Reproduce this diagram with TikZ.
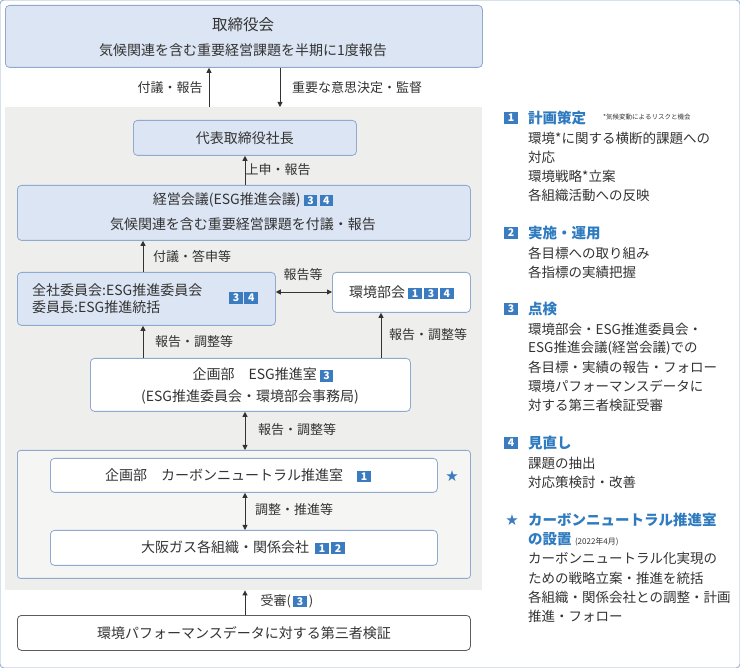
\documentclass[tikz,border=0pt]{standalone}
\usepackage{fontspec}
\setmainfont{Noto Sans CJK JP}
\newfontfamily\dejavu{DejaVu Sans}
\usetikzlibrary{arrows.meta}
\definecolor{lb}{HTML}{DCE5F3}
\definecolor{bd}{HTML}{8FA9CF}
\definecolor{gp}{HTML}{EEEEEC}
\definecolor{badge}{HTML}{3B7CC0}
\definecolor{tt}{HTML}{333333}
\definecolor{ttl}{HTML}{2F7BBF}
\newcommand\bdg[1]{{\setlength\fboxsep{1.8pt}\colorbox{badge}{\makebox[10pt]{\color{white}\bfseries\fontsize{10.5}{10.5}\selectfont #1}}}}
\tikzset{
 box/.style={draw=bd,line width=0.8pt,rounded corners=4pt,inner sep=0},
 blue/.style={box,fill=lb},
 white/.style={box,fill=white},
 arr/.style={-{Triangle[length=5pt,width=5pt]},line width=0.8pt,draw=tt},
 darr/.style={{Triangle[length=5pt,width=5pt]}-{Triangle[length=5pt,width=5pt]},line width=0.8pt,draw=tt},
 lab/.style={text=tt,font=\fontsize{13}{15}\selectfont,inner sep=1pt},
 txt/.style={text=tt,font=\fontsize{14}{17}\selectfont,inner sep=0},
 rt/.style={text=tt,font=\fontsize{13.5}{15}\selectfont,anchor=west,inner sep=0},
 rh/.style={text=ttl,font=\fontsize{14.5}{16}\selectfont\bfseries,anchor=west,inner sep=0},
}
\begin{document}
\begin{tikzpicture}[x=1pt,y=-1pt]
\useasboundingbox (0,0) rectangle (740,668);
\fill[white] (0,0) rectangle (740,668);
% top
\node[blue,minimum width=477pt,minimum height=62pt,anchor=north west] (board) at (5,5) {};
\node[txt,font=\fontsize{15.5}{17}\selectfont] (b1) at (243,25) {取締役会};
\node[txt] (b2) at (243,50) {気候関連を含む重要経営課題を半期に1度報告};
% grey panel
\node[fill=gp,minimum width=477pt,minimum height=483pt,anchor=north west,inner sep=0] (panel) at (5,107) {};
\draw[arr] (panel.north -| 209,0) -- (board.south -| 209,0);
\draw[arr] (board.south -| 280,0) -- (panel.north -| 280,0);
\node[lab] at (170,88) {付議・報告};
\node[lab] at (357,88) {重要な意思決定・監督};
% ceo
\node[blue,minimum width=223pt,minimum height=35pt,anchor=north west,txt] (ceo) at (133,120) {};
\node[txt] at (ceo) {代表取締役社長};
\node[blue,minimum width=453pt,minimum height=55pt,anchor=north west] (keiei) at (17,185) {};
\node[txt] at (243,200) {経営会議(ESG推進会議)\ \bdg{3}\,\bdg{4}};
\node[txt] at (243,224) {気候関連を含む重要経営課題を付議・報告};
\draw[arr] (keiei.north -| 245,0) -- (ceo.south -| 245,0);
\node[lab] at (278,170) {上申・報告};
% zensha
\node[blue,minimum width=258pt,minimum height=53pt,anchor=north west] (zensha) at (17,272) {};
\node[txt,anchor=west,align=left] at (32,299) {全社委員会:ESG推進委員会\\委員長:ESG推進統括};
\node[anchor=west,inner sep=0] at (229,298) {\bdg{3}\,\bdg{4}};
\draw[arr] (zensha.north -| 143,0) -- (keiei.south -| 143,0);
\node[lab] at (192,257) {付議・答申等};
% kankyo
\node[white,minimum width=138pt,minimum height=40pt,anchor=north west] (kankyo) at (332,272) {};
\node[txt] at (kankyo) {環境部会\ \bdg{1}\,\bdg{3}\,\bdg{4}};
\draw[darr] (zensha.east |- 0,292) -- (kankyo.west |- 0,292);
\node[lab] at (303,275) {報告等};
% kikaku
\node[white,minimum width=320pt,minimum height=53pt,anchor=north west] (kikaku) at (90,358) {};
\node[txt] at (263,375) {企画部\quad ESG推進室\ \bdg{3}};
\node[txt] at (250,397) {(ESG推進委員会・環境部会事務局)};
\draw[arr] (kikaku.north -| 143,0) -- (zensha.south -| 143,0);
\node[lab] at (194,342) {報告・調整等};
\draw[arr] (kikaku.north -| 381,0) -- (kankyo.south -| 381,0);
\node[lab] at (428,335) {報告・調整等};
% inner panel
\node[draw=bd,line width=0.8pt,rounded corners=3pt,fill=gp!60!white,minimum width=453pt,minimum height=128pt,anchor=north west,inner sep=0] (inner) at (17,450) {};
\draw[darr] (kikaku.south -| 245,0) -- (inner.north -| 245,0);
\node[lab] at (297,430) {報告・調整等};
\node[white,minimum width=387pt,minimum height=34pt,anchor=north west] (carbon) at (50,458) {};
\node[txt] at (238,475) {企画部\quad カーボンニュートラル推進室\quad\bdg{1}};
\node[text=badge,font=\dejavu\fontsize{15}{15}\selectfont,inner sep=0] (star) at (452,476) {★};
\node[white,minimum width=387pt,minimum height=35pt,anchor=north west] (osaka) at (50,530) {};
\node[txt] at (243,547) {大阪ガス各組織・関係会社\ \ \bdg{1}\,\bdg{2}};
\draw[darr] (carbon.south -| 245,0) -- (osaka.north -| 245,0);
\node[lab] at (294,510) {調整・推進等};
% bottom
\node[box,draw=tt!80,fill=white,minimum width=453pt,minimum height=35pt,anchor=north west] (third) at (17,615) {};
\node[txt] at (third) {環境パフォーマンスデータに対する第三者検証};
\draw[arr] (third.north -| 245,0) -- (panel.south -| 245,0);
\node[lab] at (287,601) {受審(\,\bdg{3}\,)};
% right legend
\node[anchor=west,inner sep=0] (r1) at (504,118) {\bdg{1}};
\node[rh] at (528,118) {計画策定};
\node[text=tt,font=\fontsize{6.5}{7}\selectfont,anchor=west,inner sep=0] at (603,117) {*気候変動によるリスクと機会};
\node[rt] at (528,138) {環境*に関する横断的課題への};
\node[rt] at (528,157) {対応};
\node[rt] at (528,176) {環境戦略*立案};
\node[rt] at (528,195) {各組織活動への反映};
\node[anchor=west,inner sep=0] (r2) at (504,233) {\bdg{2}};
\node[rh] at (528,233) {実施・運用};
\node[rt] at (528,253) {各目標への取り組み};
\node[rt] at (528,272) {各指標の実績把握};
\node[anchor=west,inner sep=0] (r3) at (504,309) {\bdg{3}};
\node[rh] at (528,309) {点検};
\node[rt] at (528,329) {環境部会・ESG推進委員会・};
\node[rt] at (528,348) {ESG推進会議(経営会議)での};
\node[rt] at (528,367) {各目標・実績の報告・フォロー};
\node[rt] at (528,386) {環境パフォーマンスデータに};
\node[rt] at (528,405) {対する第三者検証受審};
\node[anchor=west,inner sep=0] (r4) at (504,443) {\bdg{4}};
\node[rh] at (528,443) {見直し};
\node[rt] at (528,463) {課題の抽出};
\node[rt] at (528,482) {対応策検討・改善};
\node[text=badge,font=\dejavu\fontsize{15}{15}\selectfont,inner sep=0] (r5) at (512,520) {★};
\node[rh] at (528,520) {カーボンニュートラル推進室};
\node[rh] at (528,539) {の設置 {\mdseries\color{tt}\fontsize{8}{9}\selectfont (2022年4月)}};
\node[rt] at (528,558) {カーボンニュートラル化実現の};
\node[rt] at (528,578) {ための戦略立案・推進を統括};
\node[rt] at (528,597) {各組織・関係会社との調整・計画};
\node[rt] at (528,616) {推進・フォロー};
\end{tikzpicture}
\end{document}
